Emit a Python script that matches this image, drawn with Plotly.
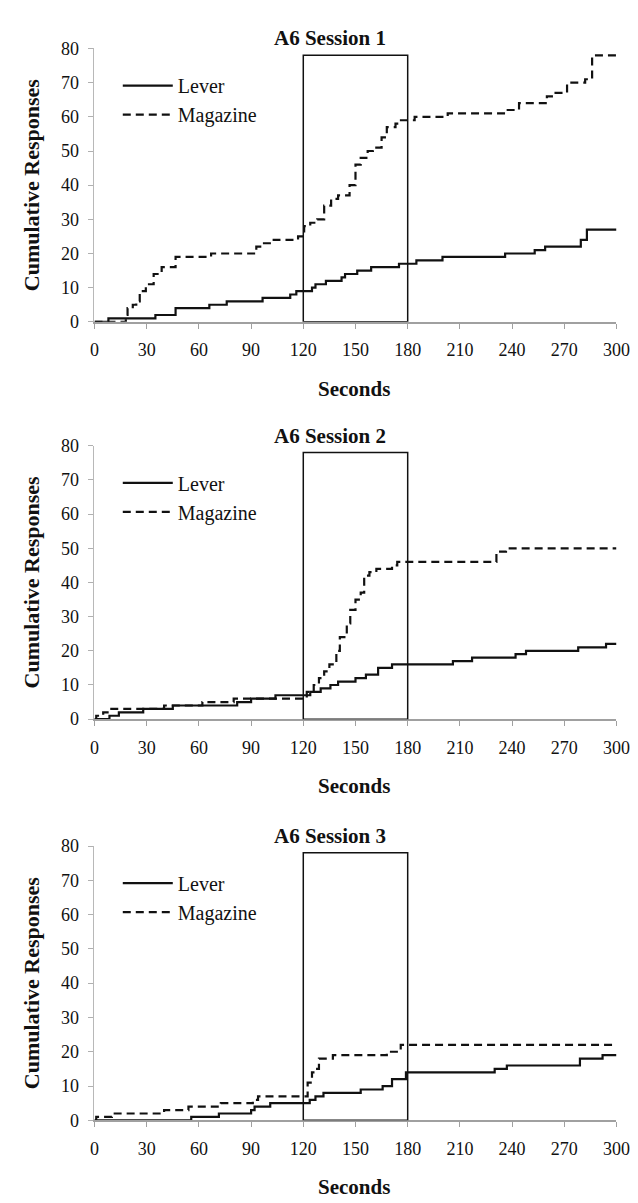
import plotly.graph_objects as go

# ---- data ----
s1_lever_t = [0, 8, 35, 46.6, 66, 76, 96.6, 112.5, 116, 125, 127, 133, 142, 144, 151, 159, 175, 185, 200, 236, 253, 259, 279.5, 283, 300]
s1_lever_y = [0, 1, 2, 4, 5, 6, 7, 8, 9, 10, 11, 12, 13, 14, 15, 16, 17, 18, 19, 20, 21, 22, 24, 27, 27]
s1_mag_t = [0, 18, 19, 22, 24, 26, 29.5, 34, 38.6, 46.6, 67, 93, 96, 103, 117, 120.5, 124, 128, 132, 136,
            140, 146.6, 150, 153, 157, 160, 165, 168, 173, 175, 184, 203, 237.5, 244, 260, 265, 271.6, 282, 286, 300]
s1_mag_y = [0, 2, 4, 5, 6, 9, 11, 14, 16, 19, 20, 22, 23, 24, 25, 28, 29, 30, 34, 36,
            37, 40, 46, 48, 50, 51, 54, 57, 58, 59, 60, 61, 62, 64, 66, 67, 70, 71, 78, 78]

s2_lever_t = [0, 8.6, 14, 28, 45, 82, 90, 104, 124, 130, 135.6, 140, 150, 156, 163, 171, 206, 217, 242, 248, 278, 294, 300]
s2_lever_y = [0, 1, 2, 3, 4, 5, 6, 7, 8, 9, 10, 11, 12, 13, 15, 16, 17, 18, 19, 20, 21, 22, 22]
s2_mag_t = [0, 1, 5, 8.6, 40, 62, 80, 122, 126, 129, 132, 135, 139, 141, 145, 147, 150, 153, 155, 158, 162, 171, 174, 231, 236.5, 300]
s2_mag_y = [0, 1, 2, 3, 4, 5, 6, 8, 10, 12, 14, 16, 20, 24, 28, 32, 35, 37, 42, 43, 44, 45, 46, 49, 50, 50]

s3_lever_t = [0, 55.6, 71.5, 90, 92, 101, 123.7, 127, 131.6, 153, 165.6, 171, 179, 230, 237, 279, 292, 300]
s3_lever_y = [0, 1, 2, 3, 4, 5, 6, 7, 8, 9, 10, 12, 14, 15, 16, 18, 19, 19]
s3_mag_t = [0, 1, 10, 40, 54, 72.6, 91, 94, 122.5, 125, 127, 129, 137, 168, 176, 300]
s3_mag_y = [0, 1, 2, 3, 4, 5, 6, 7, 11, 14, 15, 18, 19, 20, 22, 22]

titles = ["A6 Session 1", "A6 Session 2", "A6 Session 3"]
x_ticks = [0, 30, 60, 90, 120, 150, 180, 210, 240, 270, 300]
y_ticks = [0, 10, 20, 30, 40, 50, 60, 70, 80]
box_x = [120, 180]
box_top = 78

sessions = [
    (s1_lever_t, s1_lever_y, s1_mag_t, s1_mag_y),
    (s2_lever_t, s2_lever_y, s2_mag_t, s2_mag_y),
    (s3_lever_t, s3_lever_y, s3_mag_t, s3_mag_y),
]

# ---- layout geometry (pixels) ----
W, H = 638, 1203
x_left, x_right = 84, 622
panels_px = [(31, 309), (435, 713), (842, 1121)]  # (top, bottom) of plot area
title_px = [20, 425, 832]
xlabel_off = 68

FONT = "Liberation Serif, Times New Roman, serif"

def py(p):
    return 1 - p / H

fig = go.Figure()
legends = ["legend", "legend2", "legend3"]

for i, (lt, ly, mt, my) in enumerate(sessions):
    n = "" if i == 0 else str(i + 1)
    xa, ya = "x" + n, "y" + n
    fig.add_trace(go.Scatter(x=lt, y=ly, mode="lines", line_shape="hv",
                             line=dict(color="#111111", width=2.2), name="Lever",
                             xaxis=xa, yaxis=ya, legend=legends[i]))
    fig.add_trace(go.Scatter(x=mt, y=my, mode="lines", line_shape="hv",
                             line=dict(color="#111111", width=2.2, dash="8px,5px"), name="Magazine",
                             xaxis=xa, yaxis=ya, legend=legends[i]))
    top, bot = panels_px[i]
    fig.update_layout(**{
        "xaxis" + n: dict(domain=[x_left / W, x_right / W], range=[0, 300], tickvals=x_ticks,
                          showline=True, linecolor="#a0a0a0", linewidth=2, ticks="outside",
                          ticklen=5, tickcolor="#a0a0a0", showgrid=False, zeroline=False,
                          anchor=ya, tickfont=dict(family=FONT, size=18, color="#111"),
                          ticklabelstandoff=6),
        "yaxis" + n: dict(domain=[py(bot), py(top)], range=[0, 80], tickvals=y_ticks,
                          showline=True, linecolor="#b8b8b8", linewidth=1, ticks="outside",
                          ticklen=5, tickcolor="#b0b0b0", showgrid=False, zeroline=False,
                          anchor=xa, tickfont=dict(family=FONT, size=18, color="#111"),
                          ticklabelstandoff=6,
                          title=dict(text="<b>Cumulative Responses</b>",
                                     font=dict(family=FONT, size=22, color="#111"), standoff=15)),
    })
    # stimulus box
    fig.add_shape(type="rect", xref=xa, yref=ya, x0=box_x[0], x1=box_x[1], y0=0, y1=box_top,
                  line=dict(color="#111111", width=1.5), fillcolor="rgba(0,0,0,0)")
    # panel title
    fig.add_annotation(text="<b>" + titles[i] + "</b>", xref="paper", yref="paper",
                       x=327 / W, y=py(title_px[i]), xanchor="center", yanchor="middle",
                       showarrow=False, font=dict(family=FONT, size=21, color="#111"))
    fig.add_annotation(text="<b>Seconds</b>", xref="paper", yref="paper",
                       x=351 / W, y=py(bot + xlabel_off), xanchor="center", yanchor="middle",
                       showarrow=False, font=dict(family=FONT, size=21, color="#111"))
    fig.update_layout(**{
        legends[i]: dict(x=108 / W, y=py(top + 18), xanchor="left", yanchor="top",
                         bgcolor="rgba(0,0,0,0)", font=dict(family=FONT, size=20, color="#111"),
                         itemwidth=50, tracegroupgap=0)
    })

fig.update_layout(width=W, height=H, margin=dict(l=0, r=0, t=0, b=0),
                  paper_bgcolor="white", plot_bgcolor="white", showlegend=True)

fig.write_html("out.html")
